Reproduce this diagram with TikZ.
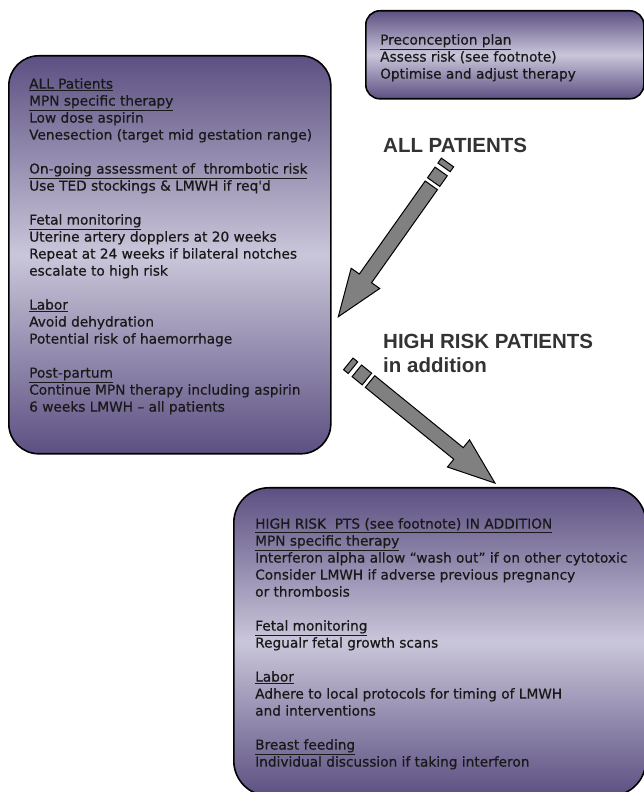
\documentclass[tikz,border=0pt]{standalone}
\usepackage{fontspec}
\newfontfamily\boxfont{DejaVu Sans}[FakeBold=0.6]
\newfontfamily\headfont{Liberation Sans}
\usetikzlibrary{positioning}
\usetikzlibrary{calc}
\definecolor{boxdark}{RGB}{92,80,130}
\definecolor{boxlight}{RGB}{202,198,218}
\definecolor{arrowgray}{RGB}{128,128,128}

\begin{document}
\begin{tikzpicture}[x=1pt, y=1pt,
    planbox/.style={draw=black, line width=1.6pt, top color=boxdark, bottom color=boxdark, middle color=boxlight, anchor=north west, inner sep=0pt},
    plantext/.style={anchor=north west, align=left, inner sep=0pt, text=black!90, font=\boxfont\fontsize{13.7}{17}\selectfont},
    heading/.style={anchor=north west, align=left, inner sep=0pt, text=black!80, font=\headfont\bfseries\fontsize{20.5}{24}\selectfont},
    blockarrow/.style={draw=black, line width=1pt, fill=arrowgray, line join=miter}]
    \useasboundingbox (0,0) rectangle (644,792);
    % the three plan boxes
    \node[planbox, rounded corners=14pt, minimum width=278pt, minimum height=88pt] (preconbox) at (365,782) {};
    \node[planbox, rounded corners=30pt, minimum width=322pt, minimum height=398pt] (allbox) at (8,737) {};
    \node[planbox, rounded corners=35pt, minimum width=412pt, minimum height=308pt] (highbox) at (233,305) {};
    % box texts
    \node[plantext, below right=24pt and 15pt of preconbox.north west] (precontext) {%
        \underline{Preconception plan}\\
        Assess risk (see footnote)\\
        Optimise and adjust therapy};
    \node[plantext, below right=23pt and 21pt of allbox.north west] (alltext) {%
        \underline{ALL Patients}\\
        \underline{MPN specific therapy}\\
        Low dose aspirin\\
        Venesection (target mid gestation range)\\[17pt]
        \underline{On-going assessment of\ \ thrombotic risk}\\
        Use TED stockings \& LMWH if req'd\\[17pt]
        \underline{Fetal monitoring}\\
        Uterine artery dopplers at 20 weeks\\
        Repeat at 24 weeks if bilateral notches\\
        escalate to high risk\\[17pt]
        \underline{Labor}\\
        Avoid dehydration\\
        Potential risk of haemorrhage\\[17pt]
        \underline{Post-partum}\\
        Continue MPN therapy including aspirin\\
        6 weeks LMWH – all patients};
    \node[plantext, below right=31pt and 22pt of highbox.north west] (hightext) {%
        \underline{HIGH RISK\ \ PTS (see footnote) IN ADDITION}\\
        \underline{MPN specific therapy}\\
        Interferon alpha allow “wash out” if on other cytotoxic\\
        Consider LMWH if adverse previous pregnancy\\
        or thrombosis\\[17pt]
        \underline{Fetal monitoring}\\
        Regualr fetal growth scans\\[17pt]
        \underline{Labor}\\
        Adhere to local protocols for timing of LMWH\\
        and interventions\\[17pt]
        \underline{Breast feeding}\\
        Individual discussion if taking interferon};
    % headings
    \node[heading] (allhead) at (383,654) {ALL PATIENTS};
    \node[heading] (highhead) at (383,458) {HIGH RISK PATIENTS\\in addition};
    % striped block arrows
    \coordinate (tailall) at (447.5,629.5);
    \coordinate (tailhigh) at (348.3,428.1);
    \foreach \a/\ang in {all/234.7, high/-39.1} {
        \begin{scope}[shift={(tail\a)}, rotate=\ang]
            \draw[blockarrow] (0,-7.5) rectangle (6,7.5);
            \draw[blockarrow] (11,-7.5) rectangle (24,7.5);
            \draw[blockarrow] (28,-7.5) -- (142,-7.5) -- (142,-17.5) -- (189,0)
                -- (142,17.5) -- (142,7.5) -- (28,7.5) -- cycle;
        \end{scope}
    }
\end{tikzpicture}
\end{document}
